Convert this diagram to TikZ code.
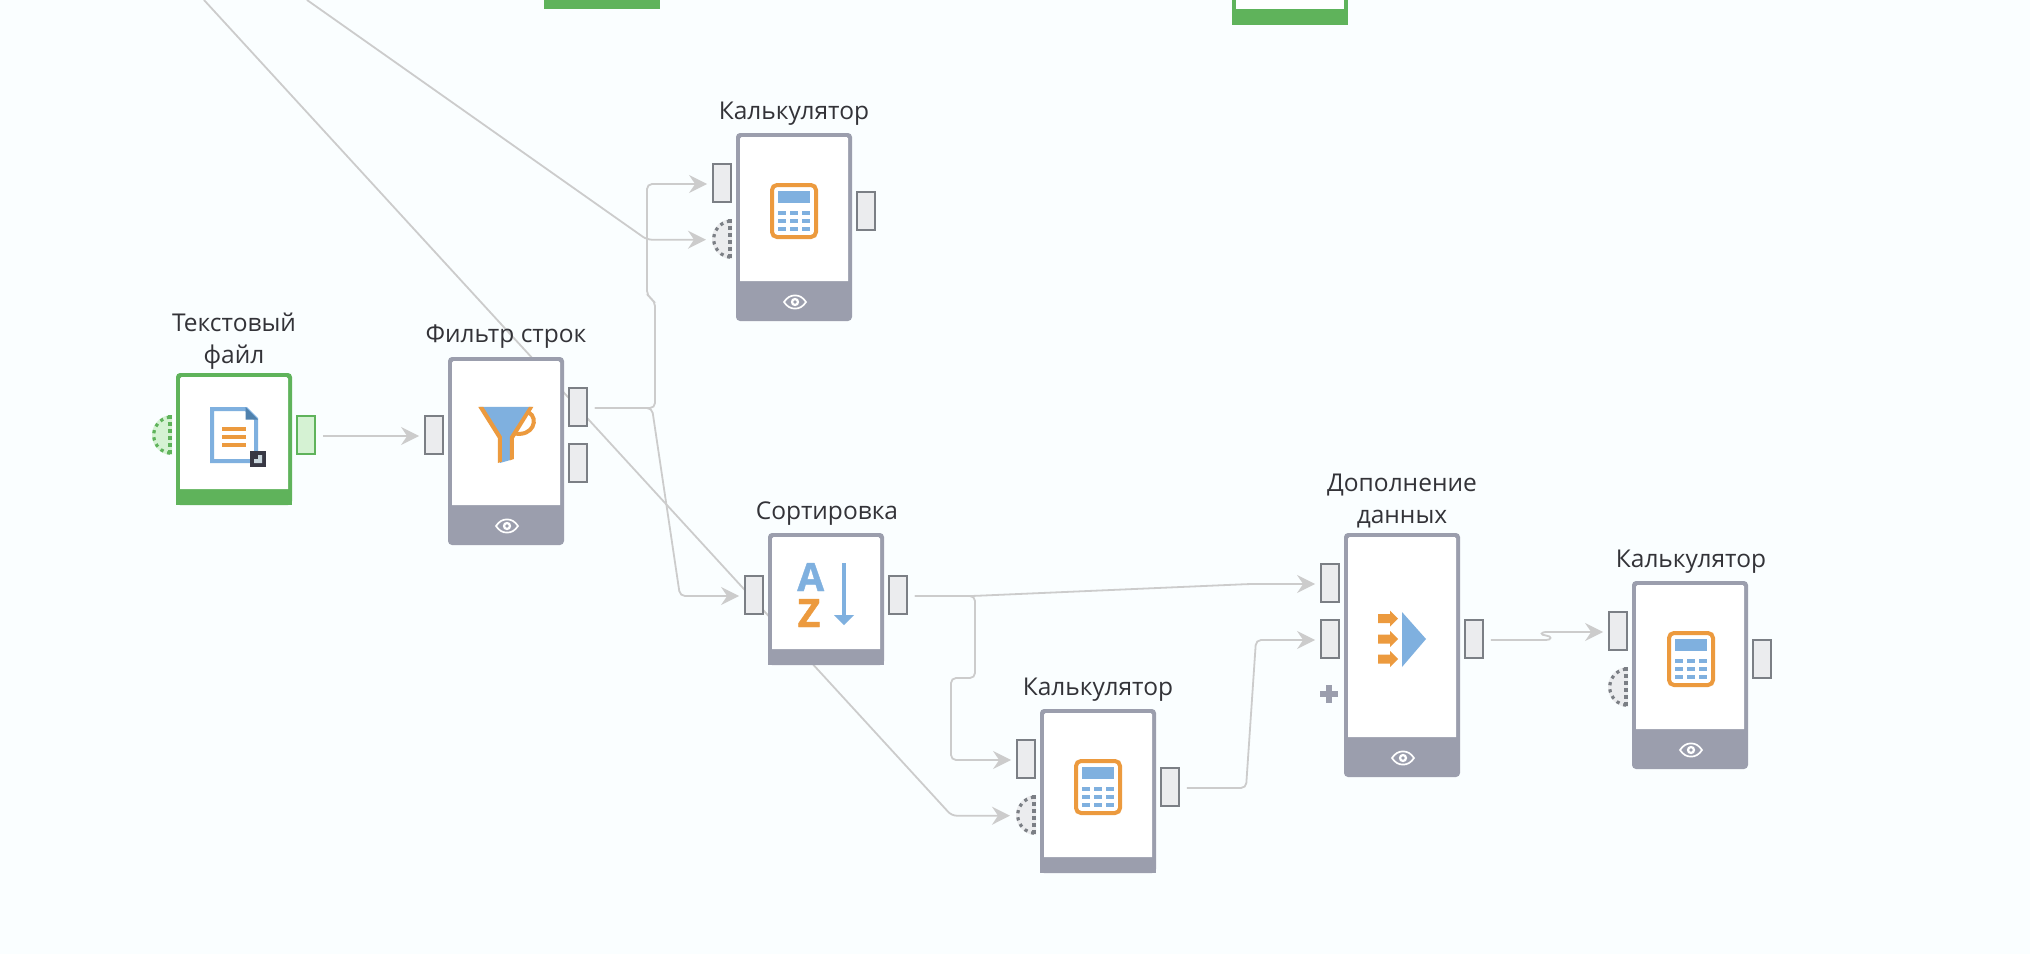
\documentclass[tikz,border=0pt]{standalone}
\usepackage{fontspec}
\setmainfont{Open Sans}
\newfontfamily\icf[BoldFeatures={FakeBold=1}]{Open Sans}
\usetikzlibrary{arrows.meta}
\pgfdeclarelayer{bglayer}
\pgfdeclarelayer{wires}
\pgfsetlayers{bglayer,wires,main}
\definecolor{bgc}{HTML}{FAFEFF}
\definecolor{frame}{HTML}{9B9EAD}
\definecolor{grn}{HTML}{5FB35B}
\definecolor{grnl}{HTML}{D5F2D3}
\definecolor{portl}{HTML}{EBECEE}
\definecolor{portd}{HTML}{7B7F85}
\definecolor{org}{HTML}{EC9A3E}
\definecolor{blu}{HTML}{7FB0DF}
\definecolor{dblu}{HTML}{4F81AD}
\definecolor{lin}{HTML}{CCCCCC}
\definecolor{txt}{HTML}{333338}
\definecolor{cornd}{HTML}{383844}
\definecolor{cornl}{HTML}{C9D6DD}
\tikzset{
  x=1pt,y=-1pt,
  portbox/.style={rectangle,draw=portd,fill=portl,line width=2.2pt,minimum width=17.8pt,minimum height=37.8pt,inner sep=0pt,outer sep=0pt},
  gportbox/.style={portbox,draw=grn,fill=grnl},
  wire/.style={draw=lin,line width=1.8pt,rounded corners=5pt},
  wirein/.style={wire,-{Stealth[length=18pt,width=18pt,inset=6pt]},shorten >=6pt},
  wireout/.style={shorten <=8pt},
  lbl/.style={font=\fontsize{24.5}{32}\selectfont,text=txt,anchor=base,inner sep=0pt,align=center},
  bodyst/.style={rectangle,inner sep=0pt,outer sep=0pt,minimum width=116pt,rounded corners=4pt},
}
\newcommand\BodyBox[6]{%
  \pgfmathsetmacro\bx{#2+58}\pgfmathsetmacro\by{#3+#4/2}
  \node[bodyst,fill=#6,minimum height=#4 pt] (#1) at (\bx,\by) {};
  \fill[white,rounded corners=1.5pt] (#2+4,#5) [sharp corners] -- (#2+4,#3+10) [rounded corners=1.5pt] -- (#2+4,#3+4) -- (#2+112,#3+4) -- (#2+112,#3+10) [sharp corners] -- (#2+112,#5) -- cycle;
}
\newcommand\SquareFoot[4]{\fill[#4] (#1,#2+6) rectangle (#1+116,#3);}
\newcommand\EyeIcon[2]{%
  \begin{scope}[shift={(#1,#2)}]
    \draw[white,line width=1.7pt] (-11,0) .. controls (-8,-4.5) and (-4.5,-6.6) .. (0,-6.6) .. controls (4.5,-6.6) and (8,-4.5) .. (11,0) .. controls (8,4.5) and (4.5,6.6) .. (0,6.6) .. controls (-4.5,6.6) and (-8,4.5) .. (-11,0) -- cycle;
    \fill[white] (0,0) circle (4.2);
    \fill[frame] (0,0) circle (1.9);
  \end{scope}}
\newcommand\CalcIcon[2]{%
  \begin{scope}[shift={(#1,#2)}]
    \draw[org,fill=white,line width=4pt,rounded corners=5pt] (2,2) rectangle (46,54);
    \fill[blu] (8,8) rectangle (40,20);
    \foreach \yy in {28,36,44}{\foreach \xx in {8,20,32}{\fill[blu] (\xx,\yy) rectangle (\xx+8,\yy+4);}}
  \end{scope}}
\newcommand\HalfPort[5]{%
  \fill[#4] (#2,#3-20) arc[start angle=-90,end angle=-270,radius=20] -- cycle;
  \draw[#5,line width=3.2pt,dash pattern=on 3.2pt off 4pt] (#2-2,#3-18) arc[start angle=-96,end angle=-264,radius=18.2];
  \draw[#5,line width=4pt,dash pattern=on 4pt off 3pt] (#2-2,#3-20) -- (#2-2,#3+20);
  \coordinate (#1) at (#2,#3);
}
\begin{document}
\begin{tikzpicture}
\useasboundingbox (0,0) rectangle (2030,954);
\begin{pgfonlayer}{bglayer}
\fill[bgc] (0,0) rectangle (2030,954);
\end{pgfonlayer}
\clip (0,0) rectangle (2030,954);

% boxes cut by the top edge
\node[rectangle,fill=grn,inner sep=0pt,minimum width=116pt,minimum height=20pt] (topa) at (602,-1) {};
\node[rectangle,fill=grn,inner sep=0pt,minimum width=116pt,minimum height=40pt] (topb) at (1290,5) {};
\node[rectangle,fill=white,inner sep=0pt,minimum width=108pt,minimum height=20pt] (topbw) at (1290,-1) {};

\coordinate (far1) at (204,0);
\coordinate (far2) at (307,0);

% process bodies
\BodyBox{tf}{176}{373}{132}{489}{grn}\SquareFoot{176}{489}{505}{grn}
\BodyBox{flt}{448}{357}{188}{505}{frame}
\BodyBox{ca}{736}{133}{188}{281}{frame}
\BodyBox{srt}{768}{533}{132}{649}{frame}\SquareFoot{768}{649}{665}{frame}
\BodyBox{cb}{1040}{709}{164}{857}{frame}\SquareFoot{1040}{857}{873}{frame}
\BodyBox{mrg}{1344}{533}{244}{737}{frame}
\BodyBox{cc}{1632}{581}{188}{729}{frame}
\EyeIcon{507}{526}\EyeIcon{795}{302}\EyeIcon{1403}{758}\EyeIcon{1691}{750}

% ports
\node[gportbox] (tout) at (306,435) {};
\node[portbox] (fin) at (434,435) {};
\node[portbox] (fo1) at (578,407) {};
\node[portbox] (fo2) at (578,463) {};
\node[portbox] (c1in) at (722,183) {};
\node[portbox] (c1out) at (866,211) {};
\node[portbox] (sin) at (754,595) {};
\node[portbox] (sout) at (898,595) {};
\node[portbox] (c2in) at (1026,759) {};
\node[portbox] (c2out) at (1170,787) {};
\node[portbox] (min1) at (1330,583) {};
\node[portbox] (min2) at (1330,639) {};
\node[portbox] (mout) at (1474,639) {};
\node[portbox] (c3in) at (1618,631) {};
\node[portbox] (c3out) at (1762,659) {};
\HalfPort{htf}{172}{435}{grnl}{grn}
\HalfPort{hca}{732}{239}{portl}{portd}
\HalfPort{hcb}{1036}{815}{portl}{portd}
\HalfPort{hcc}{1628}{687}{portl}{portd}
\fill[frame] (1326,685) rectangle (1332,703);
\fill[frame] (1320,691) rectangle (1338,697);

% wires
\begin{pgfonlayer}{wires}
\coordinate (c1h) at (712,239.7);
\coordinate (c2h) at (1016,815.7);
\draw[wirein] (far1) -- (951.7,815.7) -- (c2h) [sharp corners];
\draw[wirein] (far2) -- (647,239.7) -- (c1h) [sharp corners];
\draw[wirein,wireout] ([yshift=-1pt]tout.east) -- ([yshift=-1pt]fin.west) [sharp corners];
\draw[wirein,wireout] ([yshift=-1pt]fo1.east) -- (655,408) -- (655,301) -- (647,296) -- (647,184) -- ([yshift=-1pt]c1in.west) [sharp corners];
\draw[wirein,wireout] ([yshift=-1pt]fo1.east) -- (652,408) -- (680,596) -- ([yshift=-1pt]sin.west) [sharp corners];
\draw[wirein,wireout] ([yshift=-1pt]sout.east) -- (972,596) -- (1250,584) -- ([yshift=-1pt]min1.west) [sharp corners];
\draw[wirein,wireout] ([yshift=-1pt]sout.east) -- (975,596) -- (975,678) -- (951,678) -- (951,760) -- ([yshift=-1pt]c2in.west) [sharp corners];
\draw[wirein,wireout] ([yshift=-1pt]c2out.east) -- (1246,788) -- (1256,640) -- ([yshift=-1pt]min2.west) [sharp corners];
\draw[wirein,wireout,rounded corners=0pt] ([yshift=-1pt]mout.east) -- (1546,640) .. controls (1552,640) and (1552,636) .. (1546,635.5) .. controls (1540,635) and (1540,632) .. (1547,632) -- ([yshift=-1pt]c3in.west) [sharp corners];
\end{pgfonlayer}

% icons
\CalcIcon{770}{183}\CalcIcon{1074}{759}\CalcIcon{1667}{631}
\draw[blu,fill=white,line width=4pt,line join=miter] (212,409) -- (246,409) -- (256,419) -- (256,461) -- (212,461) -- cycle;
\fill[dblu] (245.5,407) -- (258,419.5) -- (245.5,419.5) -- cycle;
\fill[org] (222,427) rectangle (246,431);
\fill[org] (222,435) rectangle (246,439);
\fill[org] (222,443) rectangle (246,447);
\fill[cornd] (250,451) rectangle (266,467);
\fill[cornl] (254,463) -- (254,459) -- (258,459) -- (258,455) -- (262,455) -- (262,463) -- cycle;
\begin{scope}[shift={(130,290)},x=0.3333pt,y=-0.3333pt]
  \fill[blu] (1050,351) -- (1205,351) -- (1145,440) -- (1145,509) -- (1110,519) -- (1110,440) -- cycle;
  \fill[org] (1045,351) -- (1060,351) -- (1116,440) -- (1116,515) -- (1104,519) -- (1104,445) -- cycle;
  \fill[org] (1152,507) -- (1140,511) -- (1140,440) -- (1197,351) -- (1210,351) -- (1152,445) -- cycle;
  \draw[org,line width=4pt] (1196,367) .. controls (1228,385) and (1210,442) .. (1152,430);
\end{scope}
\node[font=\icf\bfseries\fontsize{39}{39}\selectfont,text=blu,anchor=base,inner sep=0pt] (la) at (810.7,591) {A};
\node[font=\icf\bfseries\fontsize{39}{39}\selectfont,text=org,anchor=base,inner sep=0pt] (lz) at (809,627) {Z};
\fill[blu] (842,563) rectangle (846,617);
\fill[blu] (834,615) -- (854,615) -- (844,625) -- cycle;
\foreach \yy in {618.7,639,659}{\fill[org] (1378,\yy-4.5) -- (1390,\yy-4.5) -- (1390,\yy-8) -- (1398,\yy) -- (1390,\yy+8) -- (1390,\yy+4.5) -- (1378,\yy+4.5) -- cycle;}
\fill[blu] (1402,612) -- (1426,639) -- (1402,667) -- cycle;

% labels
\node[lbl] (t1) at (234,363) {Текстовый\\файл};
\node[lbl] (t2) at (506,342) {Фильтр строк};
\node[lbl] (t3) at (794,119) {Калькулятор};
\node[lbl] (t4) at (827,519) {Сортировка};
\node[lbl] (t5) at (1098,695) {Калькулятор};
\node[lbl] (t6) at (1402,523) {Дополнение\\данных};
\node[lbl] (t7) at (1691,567) {Калькулятор};
\end{tikzpicture}
\end{document}
